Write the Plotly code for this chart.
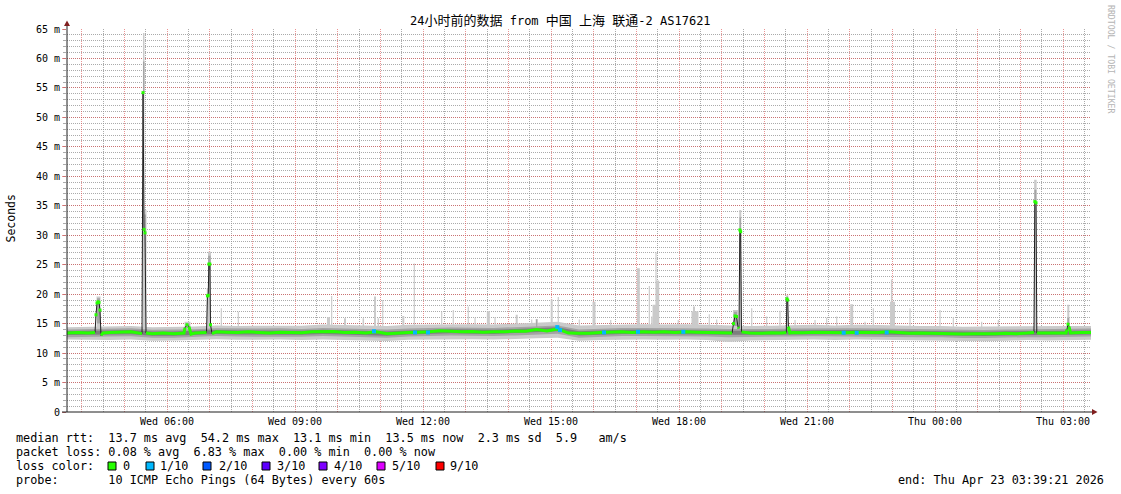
import re
import pandas as pd
import plotly.graph_objects as go

# ---------------- data ----------------
START = pd.Timestamp("2026-04-22 03:39:21")
END = pd.Timestamp("2026-04-23 03:39:21")

# median rtt (ms); times = minutes after START
med_t = [0, 15, 30,
         39.4, 40.8, 42.2, 43.6, 45.0, 46.4, 47.8, 50.6,
         60, 75, 90,
         105.5, 106.9, 108.3, 109.7, 111.1,
         120, 135, 150,
         164.5, 165.9, 168.7, 171.6, 173.0, 174.4,
         180,
         196.2, 197.5, 198.6, 199.5, 200.9, 201.8, 203.9,
         210, 225, 240, 255, 270, 285, 300, 315, 330, 345, 360, 375, 390, 405, 420,
         435, 450, 465, 480, 495, 510, 525, 540, 555, 570, 585, 600, 615, 630, 645,
         660, 675, 690, 705, 720, 735, 750, 765, 780, 795, 810, 825, 840, 855, 870,
         885, 900, 915, 930,
         935.2, 937.3, 939.4, 941.5, 943.6, 945.0, 946.2, 947.3, 948.5,
         960, 975, 990, 1005,
         1011.5, 1012.3, 1013.5, 1014.5, 1016.5,
         1020, 1035, 1050, 1065, 1080, 1095, 1110, 1125, 1140, 1155, 1170, 1185,
         1200, 1215, 1230, 1245, 1260, 1275, 1290, 1305, 1320, 1335, 1350,
         1359.8, 1361.0, 1362.7, 1363.8,
         1380, 1395,
         1404.8, 1406.2, 1407.7, 1409.1, 1411.2,
         1425, 1440]
med_v = [13.4, 13.5, 13.4,
         13.5, 16.5, 18.5, 18.7, 18.6, 17.3, 13.0, 13.4,
         13.5, 13.5, 13.6,
         13.3, 54.2, 31.0, 30.4, 13.4,
         13.3, 13.4, 13.3,
         13.4, 14.3, 14.8, 14.5, 14.0, 13.2,
         13.4,
         13.5, 19.7, 19.8, 25.1, 25.1, 14.8, 13.3,
         13.6, 13.55, 13.5, 13.6, 13.5, 13.4, 13.55, 13.5, 13.45, 13.6, 13.6, 13.65, 13.5, 13.55, 13.4,
         13.6, 13.3, 13.45, 13.5, 13.55, 13.6, 13.8, 13.7, 13.6, 13.65, 13.55, 13.6, 13.6, 13.75, 13.7,
         14.0, 13.75, 14.1, 13.4, 13.35, 13.35, 13.5, 13.55, 13.6, 13.5, 13.6, 13.55, 13.6, 13.5, 13.6,
         13.55, 13.5, 13.5, 13.45,
         13.4, 15.0, 16.3, 16.2, 14.4, 14.2, 30.9, 30.6, 13.6,
         13.4, 13.35, 13.45, 13.4,
         13.5, 19.2, 19.0, 14.5, 13.4,
         13.5, 13.45, 13.55, 13.5, 13.5, 13.45, 13.55, 13.5, 13.5, 13.6, 13.45, 13.35,
         13.4, 13.35, 13.4, 13.35, 13.25, 13.3, 13.25, 13.3, 13.35, 13.3, 13.4,
         13.5, 35.7, 35.5, 13.4,
         13.4, 13.4,
         13.4, 14.0, 14.9, 14.5, 13.4,
         13.5, 13.5]

# smoke (ping spread) sampled every 30 minutes
smoke_t = list(range(0, 1441, 30))
outer_lo = [12.3, 12.25, 12.2, 12.3, 12.1, 12.15, 12.2, 12.35, 12.25, 12.3, 12.3, 12.2, 12.3, 12.2, 12.15, 12.05,
            12.25, 12.3, 12.4, 12.35, 12.3, 12.35, 12.5, 12.6, 12.1, 12.2, 12.3, 12.3, 12.25, 12.3, 12.2, 11.9,
            12.15, 12.2, 12.25, 12.3, 12.2, 12.3, 12.25, 12.2, 12.15, 12.15, 12.0, 12.0, 12.1, 12.2, 12.15, 12.2, 12.25]
outer_hi = [14.4, 14.45, 14.5, 14.6, 14.4, 14.45, 14.5, 14.7, 14.6, 14.65, 14.7, 14.65, 14.85, 14.8, 14.75, 14.6,
            14.8, 14.85, 14.95, 14.9, 14.85, 15.0, 15.2, 15.3, 14.7, 14.8, 14.9, 14.9, 14.85, 14.9, 14.8, 14.7,
            14.6, 14.65, 14.7, 14.8, 14.7, 14.8, 14.75, 14.65, 14.6, 14.6, 14.45, 14.5, 14.55, 14.6, 14.55, 14.6, 14.6]
mid_lo = [12.7, 12.7, 12.8, 12.85, 12.6, 12.6, 12.7, 12.9, 12.8, 12.8, 12.85, 12.75, 12.9, 12.8, 12.7, 12.6,
          12.8, 12.9, 13.0, 12.95, 12.9, 13.0, 13.2, 13.3, 12.6, 12.8, 12.9, 12.9, 12.9, 12.9, 12.8, 12.7,
          12.7, 12.75, 12.8, 12.85, 12.8, 12.85, 12.8, 12.75, 12.7, 12.7, 12.55, 12.55, 12.65, 12.7, 12.7, 12.75, 12.8]
mid_hi = [14.0, 14.05, 14.1, 14.2, 13.95, 13.95, 14.05, 14.2, 14.15, 14.15, 14.2, 14.1, 14.25, 14.2, 14.05, 14.0,
          14.15, 14.25, 14.35, 14.3, 14.25, 14.4, 14.6, 14.7, 14.0, 14.15, 14.25, 14.25, 14.25, 14.25, 14.15, 14.1,
          14.05, 14.1, 14.15, 14.2, 14.15, 14.2, 14.15, 14.1, 14.05, 14.05, 13.9, 13.9, 14.0, 14.05, 14.05, 14.1, 14.15]
inner_lo = [13.05, 13.05, 13.15, 13.2, 12.95, 12.95, 13.05, 13.25, 13.15, 13.15, 13.2, 13.1, 13.25, 13.15, 13.05, 12.95,
            13.15, 13.25, 13.35, 13.3, 13.25, 13.4, 13.6, 13.7, 13.0, 13.15, 13.25, 13.25, 13.25, 13.25, 13.15, 13.1,
            13.05, 13.1, 13.15, 13.2, 13.15, 13.2, 13.15, 13.1, 13.05, 13.05, 12.9, 12.9, 13.0, 13.05, 13.05, 13.1, 13.15]
inner_hi = [13.75, 13.75, 13.85, 13.9, 13.65, 13.65, 13.75, 13.9, 13.85, 13.85, 13.9, 13.8, 13.95, 13.85, 13.75, 13.65,
            13.85, 13.95, 14.05, 14.0, 13.95, 14.1, 14.3, 14.4, 13.7, 13.85, 13.95, 13.95, 13.95, 13.95, 13.85, 13.8,
            13.75, 13.8, 13.85, 13.9, 13.85, 13.9, 13.85, 13.8, 13.75, 13.75, 13.6, 13.6, 13.7, 13.75, 13.75, 13.8, 13.85]

# single slow pings (outer smoke spikes): time (min), top (ms), duration (min)
spike_t = [44.3, 107.9, 110.4, 169.5, 200.4, 198.0, 217.0, 240.9, 367.7, 372.2, 390.9, 416.7, 433.1, 437.8,
           444.0, 472.9, 488.4, 526.9, 543.2, 564.3, 573.8, 592.5, 601.9, 632.4, 653.5, 660.5, 681.6, 690.9,
           720.4, 741.1, 764.6, 803.4, 818.9, 822.3, 828.3, 830.7, 826.9, 859.6, 881.7, 883.1, 903.2, 913.6,
           940.1, 946.8, 962.9, 983.9, 1002.6, 1012.9, 1023.8, 1051.9, 1068.3, 1082.4, 1103.5, 1122.2, 1133.9,
           1159.7, 1160.9, 1185.5, 1227.7, 1246.4, 1286.3, 1309.7, 1361.8, 1408.1]
spike_top = [19.6, 64.3, 34.3, 15.3, 27.2, 21.0, 17.6, 17.0, 16.1, 19.7, 15.9, 15.9, 19.6, 15.9,
             19.0, 16.3, 25.2, 17.0, 17.3, 17.9, 16.0, 17.1, 16.1, 16.5, 15.7, 15.8, 19.1, 19.5,
             15.7, 18.7, 15.6, 24.4, 21.4, 16.2, 27.1, 22.3, 18.2, 15.6, 17.9, 17.1, 16.6, 15.7,
             17.3, 34.3, 17.6, 16.2, 17.2, 19.8, 15.6, 15.6, 16.0, 16.2, 18.3, 15.3, 17.6,
             22.5, 18.7, 17.6, 17.3, 16.1, 15.3, 15.6, 39.4, 18.2]
spike_dur = [5.6, 2.1, 2.8, 8.4, 4.2, 2.8, 1.6, 1.6, 4.2, 1.6, 2.8, 2.1, 2.8, 2.1,
             1.6, 2.8, 1.6, 1.6, 1.6, 1.6, 1.6, 4.2, 1.6, 2.8, 1.6, 2.8, 2.8, 1.6,
             1.6, 4.2, 1.6, 4.2, 1.6, 1.6, 1.6, 4.2, 7.0, 1.6, 2.8, 9.8, 1.6, 1.6,
             7.0, 2.8, 1.6, 1.6, 1.6, 2.8, 1.6, 1.6, 1.6, 1.6, 4.2, 1.6, 1.6,
             2.1, 7.0, 1.6, 1.6, 1.6, 1.6, 1.6, 3.5, 2.8]
SPIKE_BASE = 13.6

# denser smoke around the latency events
burst_t = [44.3, 107.9, 110.0, 169.5, 200.2, 660.5, 940.1, 946.8, 1012.9, 1361.8, 1408.1]
burst_lo = [15.0, 54.2, 30.4, 14.2, 24.0, 14.2, 14.6, 30.5, 18.5, 35.5, 14.6]
burst_hi = [19.3, 59.5, 33.5, 15.0, 26.5, 15.7, 17.0, 33.0, 19.6, 37.7, 16.0]
burst_dur = [4.2, 2.1, 2.1, 5.6, 3.5, 1.6, 4.2, 2.1, 2.1, 2.8, 2.8]

# samples with 1/10 packet loss
loss_t = [431.7, 489.4, 507.7, 689.5, 693.3, 755.2, 803.0, 866.7, 1092.2, 1110.5, 1152.7]
loss_v = [13.7, 13.5, 13.5, 14.4, 13.9, 13.5, 13.6, 13.6, 13.45, 13.45, 13.5]

x_tick_times = ["2026-04-22 06:00", "2026-04-22 09:00", "2026-04-22 12:00", "2026-04-22 15:00",
                "2026-04-22 18:00", "2026-04-22 21:00", "2026-04-23 00:00", "2026-04-23 03:00"]
x_tick_labels = ["Wed 06:00", "Wed 09:00", "Wed 12:00", "Wed 15:00",
                 "Wed 18:00", "Wed 21:00", "Thu 00:00", "Thu 03:00"]
y_tick_vals = [0, 5, 10, 15, 20, 25, 30, 35, 40, 45, 50, 55, 60, 65]
y_tick_labels = ["0", "5 m", "10 m", "15 m", "20 m", "25 m", "30 m", "35 m", "40 m",
                 "45 m", "50 m", "55 m", "60 m", "65 m"]

TITLE = "24小时前的数据 from 中国 上海 联通-2 AS17621"
rtt_stats = ["13.7 ms avg", "54.2 ms max", "13.1 ms min", "13.5 ms now", "2.3 ms sd", "5.9   am/s"]
loss_stats = ["0.08 % avg", "6.83 % max", "0.00 % min", "0.00 % now"]
loss_levels = ["0", "1/10", "2/10", "3/10", "4/10", "5/10", "9/10"]
loss_colors = ["#26ff00", "#00b8ff", "#0059ff", "#5e00ff", "#7e00ff", "#dd00ff", "#ff0000"]
PROBE = "10 ICMP Echo Pings (64 Bytes) every 60s"
END_TEXT = "end: Thu Apr 23 03:39:21 2026"

# ---------------- helpers ----------------
W, H = 1121, 494
L, R, TOP, BOT = 67, 1091, 29, 412   # plot area in pixels
MONO = "DejaVu Sans Mono, Noto Sans CJK SC, monospace"


def tt(mins):
    return [START + pd.Timedelta(minutes=float(m)) for m in mins]


def px(xp):
    return (xp - L) / (R - L)


def py(yp):
    return (BOT - yp) / (BOT - TOP)


def nb(s):
    return s.replace(" ", "\u00a0")


def blocks(ts, los, his, durs):
    xs, ys = [], []
    for t, lo, hi, d in zip(ts, los, his, durs):
        a = START + pd.Timedelta(minutes=t - d / 2)
        b = START + pd.Timedelta(minutes=t + d / 2)
        xs += [a, b, b, a, a, None]
        ys += [lo, lo, hi, hi, lo, None]
    return xs, ys


fig = go.Figure()


def band(lo, hi, color):
    fig.add_trace(go.Scatter(x=tt(smoke_t), y=lo, mode="lines", line=dict(width=0),
                             hoverinfo="skip", showlegend=False))
    fig.add_trace(go.Scatter(x=tt(smoke_t), y=hi, mode="lines", line=dict(width=0),
                             fill="tonexty", fillcolor=color, hoverinfo="skip", showlegend=False))


band(outer_lo, outer_hi, "#cacaca")
sx, sy = blocks(spike_t, [SPIKE_BASE] * len(spike_t), spike_top, spike_dur)
fig.add_trace(go.Scatter(x=sx, y=sy, mode="lines", line=dict(width=0), fill="toself",
                         fillcolor="#cacaca", hoverinfo="skip", showlegend=False))
band(mid_lo, mid_hi, "#a4a4a4")
bx, by = blocks(burst_t, burst_lo, burst_hi, burst_dur)
fig.add_trace(go.Scatter(x=bx, y=by, mode="lines", line=dict(width=0), fill="toself",
                         fillcolor="#a4a4a4", hoverinfo="skip", showlegend=False))
band(inner_lo, inner_hi, "#7e7e7e")

# median
fig.add_trace(go.Scatter(x=tt(med_t), y=med_v, mode="lines", line=dict(color="#202020", width=1),
                         hoverinfo="skip", showlegend=False))
green_line = [v if v < 14.6 else None for v in med_v]
green_pts = [v if v >= 14.6 else None for v in med_v]
fig.add_trace(go.Scatter(x=tt(med_t), y=green_line, mode="lines", connectgaps=False,
                         line=dict(color=loss_colors[0], width=3), hoverinfo="skip", showlegend=False))
fig.add_trace(go.Scatter(x=tt(med_t), y=green_pts, mode="markers",
                         marker=dict(symbol="square", size=3, color=loss_colors[0], line=dict(width=0)),
                         hoverinfo="skip", showlegend=False))
fig.add_trace(go.Scatter(x=tt(loss_t), y=loss_v, mode="markers",
                         marker=dict(symbol="square", size=4, color=loss_colors[1], line=dict(width=0)),
                         hoverinfo="skip", showlegend=False))

# axes / grid
hours = pd.date_range("2026-04-22 04:00", "2026-04-23 03:00", freq="h")
lab = dict(zip(pd.to_datetime(x_tick_times), x_tick_labels))
half_hours = pd.date_range("2026-04-22 04:30", "2026-04-23 03:30", freq="h")
MGRID = "rgba(222,79,79,0.6)"
GRID = "rgba(143,143,143,0.75)"

fig.update_xaxes(range=[START, END], type="date", tickmode="array", tickvals=list(hours),
                 ticktext=[lab.get(h, "") for h in hours], showgrid=True, gridcolor=MGRID,
                 griddash="1px,1px", gridwidth=1, zeroline=False, showline=False, ticks="",
                 ticklabelstandoff=2,
                 tickfont=dict(family=MONO, size=10, color="black"),
                 minor=dict(tickmode="array", tickvals=list(half_hours), showgrid=True,
                            gridcolor=GRID, griddash="1px,1px", gridwidth=1))
fig.update_yaxes(range=[0, 65], tickmode="array", tickvals=y_tick_vals, ticktext=y_tick_labels,
                 showgrid=True, gridcolor=MGRID, griddash="1px,1px", gridwidth=1,
                 zeroline=False, showline=False, ticks="outside", ticklen=4, tickcolor=MGRID,
                 tickfont=dict(family=MONO, size=10, color="black"),
                 minor=dict(tickmode="linear", tick0=0, dtick=1, showgrid=True, gridcolor=GRID,
                            griddash="1px,1px", gridwidth=1, ticks="outside", ticklen=3, tickcolor=GRID))

shapes = []
AX = "#1f1f1f"
ARR = "#801f1f"
shapes.append(dict(type="line", xref="paper", yref="paper", x0=px(67), x1=px(67), y0=py(412), y1=py(25),
                   line=dict(color=AX, width=1)))
shapes.append(dict(type="line", xref="paper", yref="paper", x0=px(62), x1=px(1093), y0=py(412), y1=py(412),
                   line=dict(color=AX, width=1)))
shapes.append(dict(type="path", xref="paper", yref="paper",
                   path=f"M {px(64)},{py(26)} L {px(70)},{py(26)} L {px(67)},{py(20.5)} Z",
                   fillcolor=ARR, line=dict(width=0)))
shapes.append(dict(type="path", xref="paper", yref="paper",
                   path=f"M {px(1092)},{py(409)} L {px(1092)},{py(415)} L {px(1097.5)},{py(412)} Z",
                   fillcolor=ARR, line=dict(width=0)))

box_x = [108, 146, 203, 262, 319, 377, 436]
lab_x = [122, 159, 218, 276, 333, 391, 449]
for bxp, col in zip(box_x, loss_colors):
    shapes.append(dict(type="rect", xref="paper", yref="paper", x0=px(bxp), x1=px(bxp + 8),
                       y0=py(470), y1=py(462), fillcolor=col, line=dict(color="black", width=1)))

ann = []
title_html = re.sub(r"([\u4e00-\u9fff]+)", r'<span style="font-size:13px">\1</span>', nb(TITLE))
ann.append(dict(text=title_html, x=px(560.5), y=py(21), xanchor="center", yanchor="middle",
                font=dict(family=MONO, size=12, color="black")))
ann.append(dict(text="Seconds", x=px(10.5), y=py(219), xanchor="center", yanchor="middle", textangle=-90,
                font=dict(family=MONO, size=11.5, color="black")))
ann.append(dict(text=nb("RRDTOOL / TOBI OETIKER"), x=px(1111), y=py(59), xanchor="center", yanchor="middle",
                textangle=90, font=dict(family=MONO, size=8.2, color="#b4b4b4")))
LEG = dict(family=MONO, size=11.8, color="black")
lines = ["median rtt:  " + "  ".join(rtt_stats),
         "packet loss: " + "  ".join(loss_stats),
         "loss color:",
         "probe:       " + PROBE]
for txt, yp in zip(lines, [438, 452, 466, 480]):
    ann.append(dict(text=nb(txt), x=px(15), y=py(yp), xanchor="left", yanchor="middle", font=LEG))
for lx, lv in zip(lab_x, loss_levels):
    ann.append(dict(text=lv, x=px(lx), y=py(466), xanchor="left", yanchor="middle", font=LEG))
ann.append(dict(text=nb(END_TEXT), x=px(1105), y=py(480), xanchor="right", yanchor="middle", font=LEG))
for a in ann:
    a.update(xref="paper", yref="paper", showarrow=False, borderpad=0)

fig.update_layout(width=W, height=H,
                  margin=dict(l=L, r=W - R, t=TOP, b=H - BOT),
                  paper_bgcolor="white", plot_bgcolor="white", showlegend=False,
                  hovermode=False, shapes=shapes, annotations=ann)

# remove the default 8px page margin so the figure sits at the window's corner
fig.write_html("out.html", config={"displayModeBar": False},
               post_script="document.body.style.margin='0px';")
